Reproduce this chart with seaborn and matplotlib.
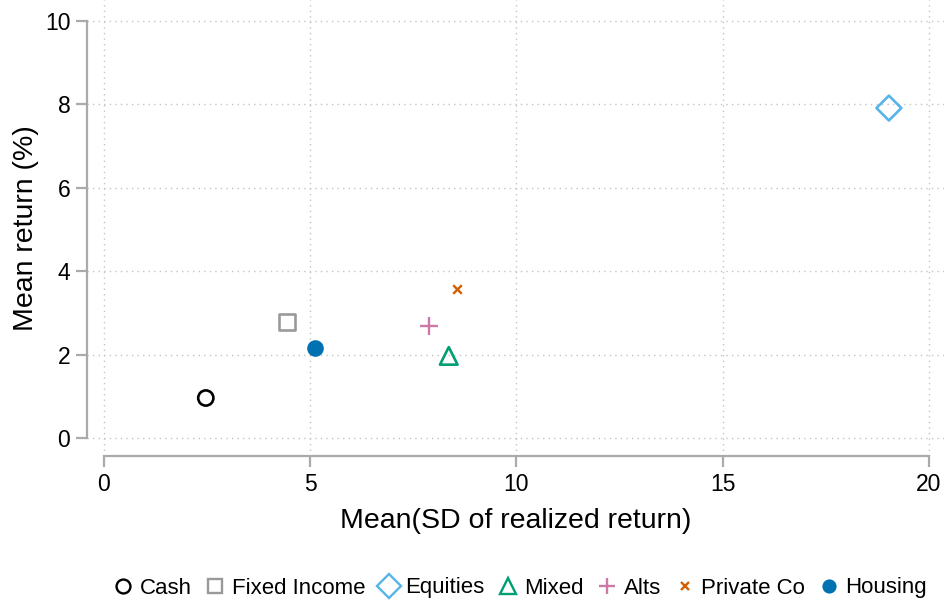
import matplotlib
matplotlib.use("Agg")
import matplotlib.pyplot as plt
import seaborn as sns
import pandas as pd
from matplotlib.lines import Line2D

# Asset classes: average volatility vs. average return
categories = ["Cash", "Fixed Income", "Equities", "Mixed", "Alts", "Private Co", "Housing"]
mean_sd = [2.47, 4.44, 19.03, 8.36, 7.88, 8.56, 5.12]
mean_ret = [0.96, 2.78, 7.91, 1.97, 2.69, 3.57, 2.16]
colors = ["#000000", "#999999", "#56B4E9", "#009E73", "#CC79A7", "#D55E00", "#0072B2"]
markers = ["o", "s", "D", "^", "+", "x", "o"]
filled = [False, False, False, False, True, True, True]
sizes = [120, 140, 160, 160, 160, 38, 105]
legend_sizes = [10, 10, 12, 11, 11, 5.5, 8.5]

x_ticks = [0, 5, 10, 15, 20]
y_ticks = [0, 2, 4, 6, 8, 10]

df = pd.DataFrame({"cat": categories, "sd": mean_sd, "ret": mean_ret})

sns.set_theme(style="white")
plt.rcParams["font.family"] = ["Liberation Sans", "DejaVu Sans"]
plt.rcParams["text.color"] = "black"
plt.rcParams["axes.labelcolor"] = "black"

fig = plt.figure(figsize=(9.45, 6.06), dpi=100)
ax = fig.add_axes([87 / 945, 1 - 456 / 606, (945 - 87) / 945, (456 - 0) / 606])

for i, cat in enumerate(categories):
    sub = df[df["cat"] == cat]
    if filled[i]:
        kw = dict(color=colors[i], edgecolor=colors[i] if markers[i] == "o" else None,
                  linewidth=1.7)
    else:
        kw = dict(facecolor="none", edgecolor=colors[i], linewidth=1.9)
    sns.scatterplot(data=sub, x="sd", y="ret", marker=markers[i], s=sizes[i],
                    ax=ax, legend=False, zorder=3, **kw)

ax.set_xlim(-0.41, 20.39)
ax.set_ylim(-0.43, 10.5)
ax.set_xticks(x_ticks)
ax.set_yticks(y_ticks)
ax.set_xticklabels([str(t) for t in x_ticks], fontsize=16.5)
ax.set_yticklabels([str(t) for t in y_ticks], fontsize=16.5)

ax.grid(True, linestyle=(0, (1, 3)), color="#c4c4c4", linewidth=1.0)
ax.set_axisbelow(True)

for side in ["top", "right"]:
    ax.spines[side].set_visible(False)
for side in ["left", "bottom"]:
    ax.spines[side].set_color("#aaaaaa")
    ax.spines[side].set_linewidth(1.6)
ax.spines["left"].set_bounds(0, 10)
ax.spines["bottom"].set_bounds(0, 20)
ax.tick_params(axis="both", which="major", length=8, width=1.6, color="#aaaaaa",
               direction="out", left=True, bottom=True, pad=4, labelcolor="black")

ax.set_xlabel("Mean(SD of realized return)", fontsize=20.5, labelpad=9)
ax.set_ylabel("Mean return (%)", fontsize=20.5, labelpad=4)

handles = []
for i, cat in enumerate(categories):
    if filled[i]:
        h = Line2D([], [], linestyle="none", marker=markers[i], color=colors[i],
                   markersize=legend_sizes[i], markeredgewidth=1.7)
    else:
        h = Line2D([], [], linestyle="none", marker=markers[i], markerfacecolor="none",
                   markeredgecolor=colors[i], markersize=legend_sizes[i], markeredgewidth=1.7)
    handles.append(h)

fig.legend(handles, categories, loc="center", bbox_to_anchor=(520 / 945, 1 - 588 / 606),
           ncol=7, frameon=False, fontsize=16.0, handlelength=0.9, handletextpad=0.3,
           columnspacing=0.6, borderaxespad=0)

fig.savefig("out.png", dpi=100)
